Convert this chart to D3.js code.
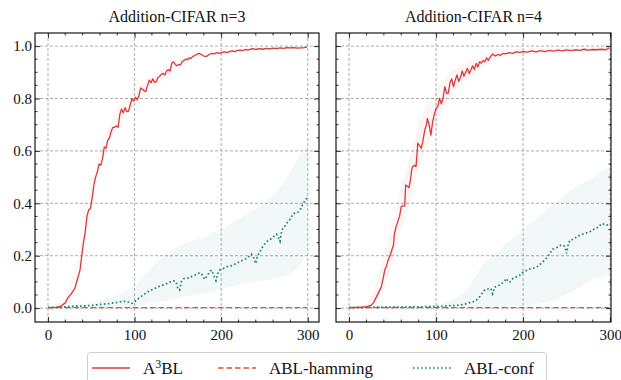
<!DOCTYPE html>
<html>
<head>
<meta charset="utf-8">
<script src="https://cdn.jsdelivr.net/npm/d3@7"></script>
<style>
  body { margin: 0; background: #fff; }
  svg { display: block; font-family: "Liberation Serif", "DejaVu Serif", serif; }
</style>
</head>
<body>
<svg id="chart" width="621" height="380"></svg>
<script>
// ---- data ----
const xTicks = [0, 100, 200, 300]
const yTicks = [0.0, 0.2, 0.4, 0.6, 0.8, 1.0]
const panelTitles = ['Addition-CIFAR n=3', 'Addition-CIFAR n=4']
const seriesNames = ['A3BL', 'ABL-hamming', 'ABL-conf']

// A3BL, n=3
const a3blN3 = [[0,0.002],[5,0.002],[10,0.003],[15,0.008],[20,0.02],[23,0.04],[27,0.055],[31,0.075],[34,0.11],[37,0.145],[39,0.2],[41,0.25],[43,0.29],[45,0.35],[47,0.375],[49,0.38],[51,0.42],[53,0.47],[55,0.5],[57,0.52],[59,0.55],[61,0.545],[63,0.57],[65,0.615],[67,0.61],[69,0.64],[71,0.65],[73,0.675],[75,0.69],[77,0.69],[79,0.695],[81,0.69],[83,0.74],[85,0.76],[87,0.745],[89,0.765],[91,0.75],[93,0.752],[95,0.775],[97,0.8],[99,0.79],[101,0.805],[103,0.795],[105,0.81],[107,0.84],[109,0.835],[111,0.83],[113,0.826],[115,0.85],[117,0.87],[119,0.86],[121,0.875],[123,0.862],[125,0.864],[127,0.88],[129,0.885],[131,0.892],[133,0.896],[135,0.89],[137,0.905],[139,0.91],[141,0.905],[143,0.935],[145,0.94],[147,0.93],[149,0.925],[151,0.93],[153,0.928],[155,0.94],[157,0.945],[159,0.95],[161,0.948],[163,0.955],[165,0.953],[167,0.96],[170,0.965],[173,0.97],[175,0.972],[177,0.968],[180,0.962],[183,0.96],[186,0.968],[189,0.972],[192,0.97],[195,0.975],[198,0.972],[201,0.976],[204,0.978],[207,0.975],[210,0.98],[213,0.982],[216,0.979],[219,0.984],[222,0.985],[225,0.983],[228,0.987],[231,0.985],[234,0.988],[237,0.99],[240,0.987],[244,0.99],[248,0.988],[252,0.991],[256,0.989],[260,0.992],[264,0.99],[268,0.993],[272,0.991],[276,0.994],[280,0.993],[284,0.994],[288,0.992],[292,0.993],[296,0.994],[299,0.997]]
const a3blN3Band = [[0,0,0.004],[15,0,0.02],[25,0.02,0.08],[35,0.1,0.2],[45,0.3,0.4],[55,0.46,0.55],[65,0.58,0.66],[75,0.65,0.73],[85,0.72,0.79],[95,0.76,0.82],[105,0.79,0.84],[115,0.83,0.88],[125,0.85,0.89],[140,0.89,0.925],[155,0.925,0.955],[170,0.955,0.975],[190,0.962,0.982],[210,0.972,0.988],[240,0.982,0.994],[270,0.988,0.997],[300,0.99,1.0]]

// ABL-hamming, n=3 and n=4 (flat)
const hammingN3 = [[0,0.002],[50,0.002],[100,0.002],[150,0.002],[200,0.002],[250,0.002],[299,0.002]]
const hammingN4 = [[0,0.002],[50,0.002],[100,0.002],[150,0.002],[200,0.002],[250,0.002],[299,0.002]]

// ABL-conf, n=3
const confN3 = [[0,0.003],[10,0.003],[20,0.005],[30,0.007],[40,0.008],[50,0.01],[60,0.014],[70,0.017],[80,0.022],[85,0.025],[90,0.026],[94,0.022],[97,0.018],[100,0.025],[105,0.038],[110,0.05],[115,0.062],[120,0.07],[125,0.078],[130,0.085],[135,0.09],[140,0.098],[145,0.104],[148,0.1],[150,0.075],[152,0.069],[154,0.1],[157,0.113],[162,0.115],[167,0.122],[172,0.13],[175,0.135],[178,0.128],[181,0.11],[184,0.125],[187,0.14],[189,0.145],[192,0.12],[194,0.105],[196,0.13],[198,0.145],[200,0.148],[204,0.153],[208,0.16],[212,0.162],[216,0.168],[220,0.175],[225,0.183],[230,0.19],[233,0.2],[235,0.206],[238,0.19],[240,0.17],[242,0.2],[245,0.215],[248,0.235],[252,0.253],[256,0.26],[260,0.272],[264,0.282],[266,0.27],[268,0.255],[270,0.298],[273,0.31],[276,0.325],[280,0.34],[283,0.36],[286,0.363],[289,0.367],[292,0.38],[294,0.395],[297,0.412],[299,0.42]]
const confN3Band = [[0,0,0.006],[20,0,0.01],[40,0,0.015],[60,0,0.03],[80,0.002,0.05],[100,0.003,0.08],[110,0.01,0.12],[120,0.02,0.16],[130,0.025,0.19],[140,0.03,0.21],[150,0.038,0.235],[160,0.045,0.25],[170,0.05,0.26],[180,0.058,0.27],[190,0.065,0.29],[200,0.072,0.3],[210,0.08,0.32],[220,0.088,0.34],[230,0.095,0.36],[240,0.1,0.38],[250,0.105,0.4],[260,0.11,0.43],[270,0.12,0.47],[280,0.13,0.52],[290,0.16,0.58],[300,0.21,0.62]]

// A3BL, n=4
const a3blN4 = [[0,0.002],[5,0.002],[10,0.003],[15,0.004],[20,0.006],[25,0.01],[28,0.02],[31,0.04],[34,0.06],[37,0.08],[39,0.11],[41,0.145],[43,0.16],[45,0.185],[47,0.2],[49,0.22],[51,0.24],[52,0.28],[54,0.31],[56,0.33],[58,0.35],[60,0.387],[62,0.39],[64,0.39],[65,0.47],[67,0.465],[69,0.46],[71,0.5],[72,0.53],[73,0.54],[75,0.545],[77,0.54],[79,0.63],[81,0.62],[83,0.61],[85,0.64],[87,0.68],[89,0.7],[90,0.724],[92,0.7],[94,0.66],[96,0.71],[98,0.74],[100,0.762],[102,0.77],[104,0.8],[106,0.78],[108,0.8],[110,0.845],[112,0.82],[114,0.82],[116,0.86],[118,0.875],[120,0.845],[122,0.87],[124,0.89],[126,0.865],[128,0.88],[130,0.905],[132,0.885],[134,0.9],[136,0.915],[138,0.895],[140,0.91],[142,0.925],[144,0.91],[146,0.934],[148,0.92],[150,0.94],[152,0.935],[154,0.945],[156,0.94],[158,0.955],[160,0.945],[162,0.958],[165,0.97],[168,0.962],[171,0.968],[174,0.965],[177,0.972],[180,0.97],[184,0.975],[188,0.972],[192,0.978],[196,0.976],[200,0.979],[205,0.977],[210,0.982],[215,0.978],[220,0.983],[225,0.979],[230,0.984],[235,0.981],[240,0.985],[245,0.982],[250,0.986],[255,0.983],[260,0.986],[265,0.984],[270,0.988],[275,0.985],[280,0.987],[285,0.986],[290,0.988],[295,0.986],[299,0.993]]
const a3blN4Band = [[0,0,0.005],[20,0,0.015],[30,0.01,0.08],[40,0.07,0.2],[50,0.17,0.32],[60,0.3,0.47],[70,0.4,0.58],[80,0.53,0.7],[90,0.62,0.78],[100,0.7,0.83],[110,0.77,0.88],[120,0.82,0.91],[130,0.86,0.93],[140,0.88,0.945],[150,0.91,0.96],[165,0.945,0.98],[180,0.96,0.985],[200,0.968,0.99],[240,0.975,0.993],[300,0.98,0.997]]

// ABL-conf, n=4
const confN4 = [[0,0.003],[20,0.003],[40,0.004],[60,0.004],[80,0.005],[100,0.006],[110,0.008],[120,0.01],[128,0.012],[133,0.015],[138,0.02],[143,0.025],[147,0.033],[150,0.043],[153,0.058],[156,0.07],[160,0.073],[163,0.075],[165,0.055],[167,0.078],[170,0.085],[173,0.088],[176,0.095],[179,0.105],[181,0.113],[183,0.1],[185,0.1],[188,0.112],[191,0.118],[193,0.12],[196,0.125],[199,0.135],[202,0.14],[205,0.145],[208,0.15],[212,0.152],[216,0.158],[219,0.165],[222,0.175],[225,0.183],[228,0.195],[231,0.21],[234,0.225],[237,0.228],[240,0.233],[243,0.24],[246,0.24],[248,0.235],[250,0.209],[252,0.245],[254,0.26],[257,0.262],[260,0.268],[263,0.275],[266,0.279],[269,0.283],[272,0.286],[275,0.29],[278,0.293],[281,0.3],[284,0.305],[287,0.31],[290,0.323],[293,0.32],[296,0.318],[299,0.315]]
const confN4Band = [[0,0,0.006],[60,0,0.008],[100,0,0.012],[120,0,0.03],[135,0,0.07],[145,0,0.12],[154,0.002,0.17],[165,0.005,0.2],[175,0.008,0.23],[185,0.01,0.26],[200,0.012,0.3],[215,0.015,0.34],[227,0.022,0.374],[240,0.035,0.41],[254,0.06,0.45],[265,0.08,0.47],[277,0.107,0.49],[290,0.12,0.52],[300,0.13,0.54]]

// ---- styles ----
const colors = { a3bl: '#d93a3a', hamming: '#d6573c', conf: '#16806e' }
const serif = '"Liberation Serif", "Times New Roman", serif'
const dotted = '1.6,2.4'

const panels = [
  { title: panelTitles[0], left: 35, right: 319, xDomain: [-15, 313], yLabels: true,
    a3bl: a3blN3, a3blBand: a3blN3Band, hamming: hammingN3, conf: confN3, confBand: confN3Band },
  { title: panelTitles[1], left: 336, right: 611, xDomain: [-15, 301], yLabels: false,
    a3bl: a3blN4, a3blBand: a3blN4Band, hamming: hammingN4, conf: confN4, confBand: confN4Band }
]

const plotTop = 33, plotBottom = 322
const svg = d3.select('#chart')

panels.forEach((p, i) => {
  const x = d3.scaleLinear().domain(p.xDomain).range([p.left, p.right])
  const y = d3.scaleLinear().domain([-0.053, 1.05]).range([plotBottom, plotTop])

  const g = svg.append('g').attr('class', 'panel-' + i)
  const clipId = 'clip-' + i
  g.append('clipPath').attr('id', clipId)
    .append('rect').attr('x', p.left).attr('y', plotTop)
    .attr('width', p.right - p.left).attr('height', plotBottom - plotTop)

  // grid
  const grid = g.append('g')
  grid.selectAll('.gx').data(xTicks).enter().append('line')
    .attr('x1', d => x(d)).attr('x2', d => x(d)).attr('y1', plotTop).attr('y2', plotBottom)
  grid.selectAll('.gy').data(yTicks).enter().append('line')
    .attr('x1', p.left).attr('x2', p.right).attr('y1', d => y(d)).attr('y2', d => y(d))
  grid.selectAll('line')
    .style('stroke', '#8a8a8a').style('stroke-width', 0.7).style('stroke-dasharray', '3,2')

  const plot = g.append('g').attr('clip-path', `url(#${clipId})`)

  const area = d3.area().x(d => x(d[0])).y0(d => y(d[1])).y1(d => y(d[2]))
  const line = d3.line().x(d => x(d[0])).y(d => y(d[1]))

  plot.append('path').attr('d', area(p.confBand))
    .style('fill', colors.conf).style('fill-opacity', 0.055)
  plot.append('path').attr('d', area(p.a3blBand))
    .style('fill', colors.a3bl).style('fill-opacity', i === 0 ? 0.04 : 0.05)

  plot.append('path').attr('d', line(p.hamming))
    .style('fill', 'none').style('stroke', colors.hamming).style('stroke-width', 1.3)
    .style('stroke-dasharray', '5.5,3')
  plot.append('path').attr('d', line(p.conf))
    .style('fill', 'none').style('stroke', colors.conf).style('stroke-width', 1.7)
    .style('stroke-dasharray', dotted)
  plot.append('path').attr('d', line(p.a3bl))
    .style('fill', 'none').style('stroke', colors.a3bl).style('stroke-width', 1.3)
    .style('stroke-linejoin', 'round')

  // axes with inward ticks on all sides
  const xMinor = d3.range(0, 301, 20).filter(v => v % 100 !== 0 && x(v) <= p.right)
  const yMinor = d3.range(0, 21).map(v => v * 0.05).filter(v => Math.round(v * 100) % 20 !== 0)

  const axB = d3.axisBottom(x).tickValues(xTicks).tickSize(-5).tickPadding(7).tickFormat(d3.format('d'))
  const axT = d3.axisTop(x).tickValues(xTicks).tickSize(-5).tickFormat('')
  const axL = d3.axisLeft(y).tickValues(yTicks).tickSize(-5).tickPadding(3)
    .tickFormat(p.yLabels ? d3.format('.1f') : '')
  const axR = d3.axisRight(y).tickValues(yTicks).tickSize(-5).tickFormat('')

  const axes = [
    g.append('g').attr('transform', `translate(0,${plotBottom})`).call(axB)
      .call(a => a.selectAll('.minor').data(xMinor).enter().append('line').attr('class', 'minor')
        .attr('x1', d => x(d)).attr('x2', d => x(d)).attr('y1', 0).attr('y2', -2.5)),
    g.append('g').attr('transform', `translate(0,${plotTop})`).call(axT)
      .call(a => a.selectAll('.minor').data(xMinor).enter().append('line').attr('class', 'minor')
        .attr('x1', d => x(d)).attr('x2', d => x(d)).attr('y1', 0).attr('y2', 2.5)),
    g.append('g').attr('transform', `translate(${p.left},0)`).call(axL)
      .call(a => a.selectAll('.minor').data(yMinor).enter().append('line').attr('class', 'minor')
        .attr('y1', d => y(d)).attr('y2', d => y(d)).attr('x1', 0).attr('x2', 2.5)),
    g.append('g').attr('transform', `translate(${p.right},0)`).call(axR)
      .call(a => a.selectAll('.minor').data(yMinor).enter().append('line').attr('class', 'minor')
        .attr('y1', d => y(d)).attr('y2', d => y(d)).attr('x1', 0).attr('x2', -2.5))
  ]
  axes.forEach(a => {
    a.attr('font-family', serif).attr('font-size', 15)
    a.select('.domain').remove()
    a.selectAll('line').style('stroke', '#000').style('stroke-width', 0.8)
    a.selectAll('text').style('font-family', serif)
      .style('font-size', '15px').style('fill', '#111')
  })

  // frame
  g.append('rect').attr('x', p.left).attr('y', plotTop)
    .attr('width', p.right - p.left).attr('height', plotBottom - plotTop)
    .style('fill', 'none').style('stroke', '#000').style('stroke-width', 1.1)

  g.append('text').attr('x', (p.left + p.right) / 2).attr('y', 22)
    .attr('text-anchor', 'middle').style('font-family', serif)
    .style('font-size', '16px').style('fill', '#111')
    .text(p.title)
})

// ---- legend ----
const legend = svg.append('g').style('font-family', serif)
legend.append('rect').attr('x', 87.5).attr('y', 352.5).attr('width', 459).attr('height', 40)
  .attr('rx', 3).style('fill', '#fff').style('stroke', '#cfcfcf').style('stroke-width', 1)

const legendItems = [
  { name: seriesNames[0], color: colors.a3bl, dash: null, x: 92 },
  { name: seriesNames[1], color: colors.hamming, dash: '5.5,3', x: 218 },
  { name: seriesNames[2], color: colors.conf, dash: dotted, x: 413 }
]
legendItems.forEach(it => {
  legend.append('line').attr('x1', it.x).attr('x2', it.x + 38).attr('y1', 368).attr('y2', 368)
    .style('stroke', it.color).style('stroke-width', it.dash === dotted ? 1.7 : 1.3)
    .style('stroke-dasharray', it.dash)
  const t = legend.append('text').attr('x', it.x + 51).attr('y', 374)
    .style('font-size', '17px').style('fill', '#111')
  if (it.name === 'A3BL') {
    t.append('tspan').text('A')
    t.append('tspan').attr('dy', -6).style('font-size', '12px').text('3')
    t.append('tspan').attr('dy', 6).text('BL')
  } else {
    t.text(it.name)
  }
})
</script>
</body>
</html>
